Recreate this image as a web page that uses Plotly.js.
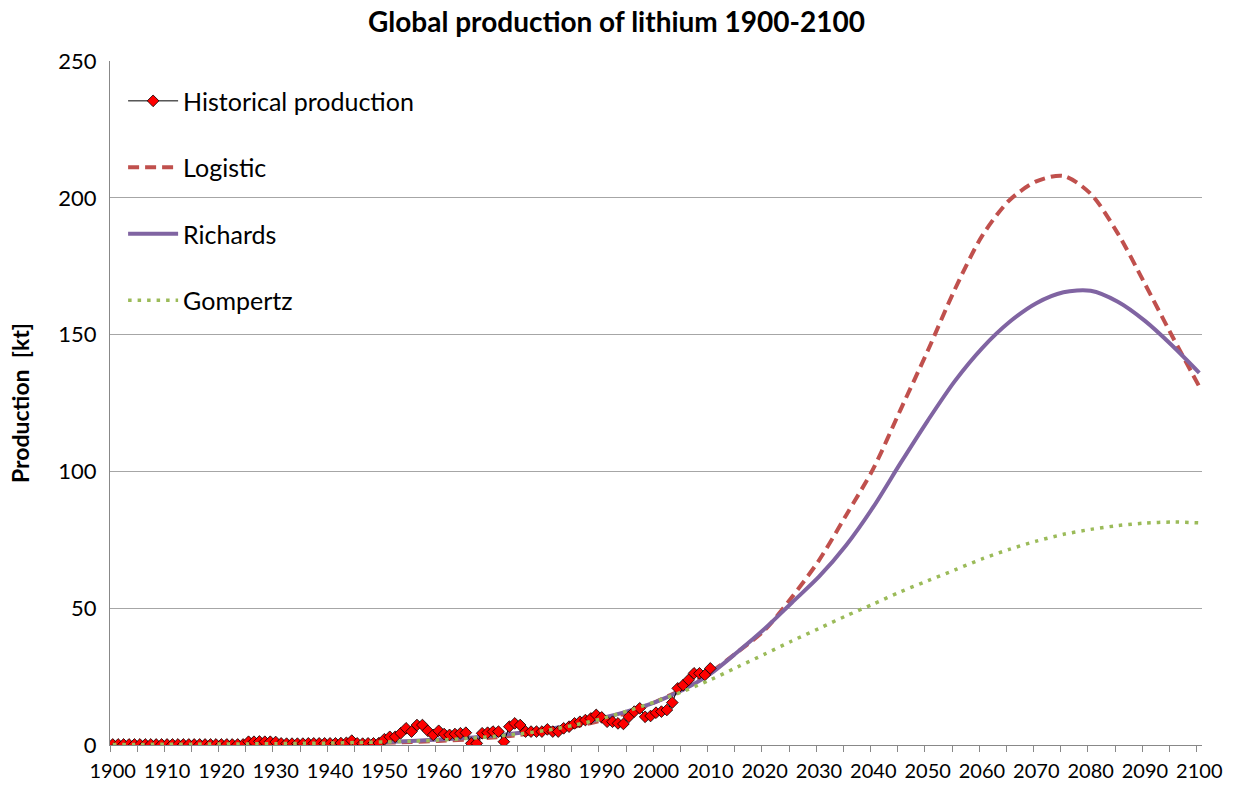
<!DOCTYPE html>
<html>
<head>
<meta charset="utf-8">
<script src="https://cdn.plot.ly/plotly-3.0.1.min.js"></script>
<style>html,body{margin:0;padding:0;background:#fff;}#chart{width:1233px;height:789px;}</style>
</head>
<body>
<div id="chart"></div>
<script>
// Historical production (kt), annual 1900-2010
const histYears = [];
for (let y = 1900; y <= 2010; y++) histYears.push(y);
const histValues = [
  0.2,0.2,0.2,0.2,0.2,0.2,0.2,0.2,0.2,0.2,
  0.2,0.2,0.2,0.2,0.2,0.2,0.2,0.2,0.2,0.2,
  0.2,0.2,0.2,0.2,0.2,1.2,1.2,1.3,1.2,1.2,
  1.1,0.6,0.5,0.5,0.5,0.5,0.6,0.6,0.6,0.6,
  0.6,0.6,0.7,0.8,1.6,0.6,0.5,0.6,0.6,0.7,
  2.1,3.0,3.0,4.3,6.1,4.9,7.3,7.3,5.2,3.7,
  5.2,4.0,3.7,4.0,4.3,4.5,0.6,0.6,4.3,4.5,
  4.9,4.9,1.2,6.7,7.9,7.3,4.9,4.9,4.9,4.9,
  5.7,4.9,4.9,6.1,6.7,7.9,8.5,9.1,9.7,11.0,
  10.1,8.5,8.5,7.9,7.7,10.3,12.2,13.4,10.3,10.6,
  11.8,12.2,12.8,15.5,20.7,21.9,23.8,26.2,26.2,25.6,
  28.0
];

// Model curves (kt), every 5 years 1900-2100
const modelYears = [];
for (let y = 1900; y <= 2100; y += 5) modelYears.push(y);
const logisticValues = [
  0.0,0.0,0.0,0.1,0.1,0.1,0.2,0.3,0.4,0.6,
  0.8,1.1,1.5,2.0,2.7,3.7,5.0,6.7,9.0,12.0,
  15.8,20.6,26.5,34.0,42.0,54.0,67.5,84.0,101,122.5,
  144,166.5,186,199,206,208,201.5,187,168.5,149.5,
  131
];
const richardsValues = [
  0.0,0.0,0.1,0.1,0.1,0.2,0.3,0.4,0.6,0.8,
  1.1,1.5,2.0,2.6,3.4,4.5,5.8,7.5,9.8,12.5,
  15.8,20.2,26.0,34.0,42.5,52,61.5,73,87,103,
  118.5,133,145,154.5,161.5,165.5,166,162,155,146,
  136
];
const gompertzValues = [
  0.2,0.2,0.3,0.3,0.4,0.4,0.5,0.6,0.7,0.9,
  1.1,1.4,1.8,2.4,3.1,4.1,5.4,7.3,9.6,12.6,
  15.9,19.6,23.8,28.5,33.2,38,42.6,47.2,51.5,56,
  60,64,68,71.5,74.5,77,78.8,80.2,81.1,81.5,
  81.2
];

const seriesNames = ["Historical production","Logistic","Richards","Gompertz"];
const FONT = "Lato, 'Open Sans', sans-serif";

const traces = [
  {x: modelYears, y: logisticValues, name: seriesNames[1], type:'scatter', mode:'lines',
   line:{color:'#c0504d', width:4, dash:'11px,6px', shape:'spline', smoothing:0.8},
   legendgroup:'b', legendrank:2},
  {x: modelYears, y: richardsValues, name: seriesNames[2], type:'scatter', mode:'lines',
   line:{color:'#8064a2', width:4, shape:'spline', smoothing:0.8},
   legendgroup:'c', legendrank:3},
  {x: histYears, y: histValues, name: seriesNames[0], type:'scatter', mode:'lines+markers',
   line:{color:'#000000', width:1},
   marker:{symbol:'diamond', color:'#ff0000', size:9, line:{color:'#000000', width:0.8}},
   legendgroup:'a', legendrank:1},
  {x: modelYears, y: gompertzValues, name: seriesNames[3], type:'scatter', mode:'lines',
   line:{color:'#9bbb59', width:3.5, dash:'3.5px,6px', shape:'spline', smoothing:0.8},
   legendgroup:'d', legendrank:4}
];

const layout = {
  width:1233, height:789,
  margin:{l:110, r:31, t:61, b:44},
  paper_bgcolor:'#ffffff', plot_bgcolor:'#ffffff',
  font:{family:FONT, color:'#000000'},
  title:{text:'<b>Global production of lithium 1900-2100</b>', font:{family:FONT, size:28, color:'#000'},
         x:0.5, xanchor:'center', y:0.972, yanchor:'middle'},
  showlegend:true,
  legend:{x:0.012, y:0.975, xanchor:'left', yanchor:'top', bgcolor:'rgba(0,0,0,0)',
          font:{family:FONT, size:25, color:'#000'}, tracegroupgap:31, itemwidth:50,
          traceorder:'grouped'},
  xaxis:{range:[1899.5,2100.5], tickvals:[1900,1910,1920,1930,1940,1950,1960,1970,1980,1990,2000,2010,2020,2030,2040,2050,2060,2070,2080,2090,2100],
         ticks:'', showgrid:false, zeroline:false, showline:true, linecolor:'#888888', linewidth:1,
         tickfont:{family:FONT, size:20, color:'#000'}, ticklabelstandoff:8,
         minor:{tick0:1899.5, dtick:5, ticks:'outside', ticklen:6, tickcolor:'#888888', showgrid:false}},
  yaxis:{range:[0,250], tickvals:[0,50,100,150,200,250], showgrid:true, gridcolor:'#a6a6a6', gridwidth:1,
         zeroline:false, showline:true, linecolor:'#888888', linewidth:1, ticks:'',
         tickfont:{family:FONT, size:22, color:'#000'}, ticklabelstandoff:8,
         title:{text:'<b>Production\u00a0 [kt]</b>', font:{family:FONT, size:23, color:'#000'}, standoff:22}}
};

Plotly.newPlot('chart', traces, layout, {displayModeBar:false, staticPlot:true});
</script>
</body>
</html>
